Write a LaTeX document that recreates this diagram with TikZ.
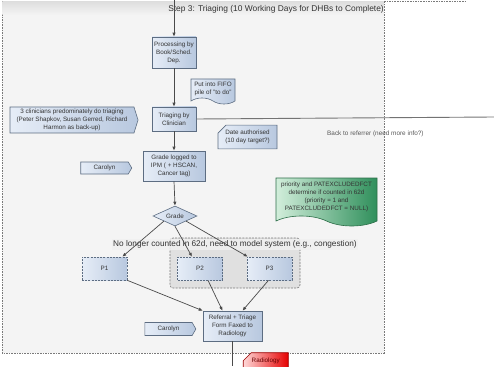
\documentclass[tikz,border=0pt]{standalone}
\usepackage{fontspec}
\setmainfont{Liberation Sans}
\usetikzlibrary{arrows.meta,shapes.misc,shapes.symbols,shapes.geometric,calc}

\definecolor{laneFill}{HTML}{F4F4F4}
\definecolor{laneLine}{HTML}{7A7A7A}
\definecolor{boxLine}{HTML}{5D6D82}
\definecolor{boxLight}{HTML}{E6EDF7}
\definecolor{boxDark}{HTML}{B8C8DF}
\definecolor{txt}{HTML}{333333}
\definecolor{wire}{HTML}{4A4A4A}
\definecolor{ruleLight}{HTML}{D2EEDB}
\definecolor{ruleDark}{HTML}{2F8F5B}
\definecolor{ruleLine}{HTML}{2C6E48}

\tikzset{
  small/.style={font=\fontsize{6.3}{7.9}\selectfont, text=txt, align=center, inner sep=1pt},
  procbox/.style={small, draw=boxLine, line width=0.6pt, left color=boxLight, right color=boxDark,
                  rectangle, minimum width=#1},
  procbox/.default=44pt,
  dashbox/.style={small, draw=boxLine, line width=0.6pt, dash pattern=on 2pt off 1.2pt,
                  left color=boxLight, right color=boxDark, minimum width=45pt, minimum height=23pt},
  flag/.style={small, signal, signal to=east, draw=boxLine, line width=0.6pt,
               left color=boxLight, right color=boxDark},
  cardnote/.style={small, chamfered rectangle, chamfered rectangle corners=north west,
                   chamfered rectangle xsep=4pt, chamfered rectangle ysep=4pt,
                   draw=boxLine, line width=0.6pt, left color=boxLight, right color=boxDark},
  docnote/.style={small, tape, tape bend top=none, tape bend bottom=out and in, tape bend height=6pt,
                  draw=boxLine, line width=0.6pt, left color=boxLight, right color=boxDark},
  flow/.style={draw=wire, line width=0.7pt, -{Latex[length=4pt,width=3.4pt]}},
  plain/.style={draw=wire, line width=0.7pt},
  lane/.style={draw=laneLine, line width=0.6pt, dash pattern=on 1.6pt off 1pt},
}

\begin{document}
\begin{tikzpicture}[x=1pt,y=-1pt]
\useasboundingbox (0,0) rectangle (494,366);

% swim lane for step 3
\draw[lane, fill=laneFill] (2,1) rectangle (384,353);
\shade[top color=black!13, bottom color=laneFill] (2.4,1.4) rectangle (383.6,15);
\draw[lane] (384,1) -- (467,1);
\node[anchor=east, font=\fontsize{8.4}{9}\selectfont, text=txt, inner sep=0pt] (title) at (384,9.5)
  {Step 3: Triaging (10 Working Days for DHBs to Complete)};

% group of counted priorities
\draw[draw=laneLine, line width=0.6pt, dash pattern=on 2pt off 1.2pt, fill=black!12, rounded corners=3pt]
  (170,238) rectangle (300,288);
\node[font=\fontsize{8.25}{9}\selectfont, text=txt, fill=black!6, fill opacity=0.85, text opacity=1,
      inner xsep=1pt, inner ysep=1.5pt] (nolonger) at (235,244.5)
  {No longer counted in 62d, need to model system (e.g., congestion)};

% main flow boxes
\node[procbox, minimum height=31pt] (proc) at (174,52.5) {Processing by\\Book/Sched.\\Dep.};
\node[docnote, minimum width=44pt, minimum height=25pt] (fifo) at (213,88.5) {Put into FIFO\\pile of "to do"};
\node[procbox, minimum height=24pt] (triage) at (174,119) {Triaging by\\Clinician};
\node[flag, signal pointer angle=145, minimum width=128pt, minimum height=26pt] (clin) at (72,120)
  {3 clinicians predominately do triaging\\(Peter Shapkov, Susan Gerred, Richard\\Harmon as back-up)};
\node[cardnote, minimum width=59pt, minimum height=22pt] (date) at (247.5,137) {Date authorised\\(10 day target?)};
\node[small, text=black!65, font=\fontsize{6.4}{7.5}\selectfont, anchor=west] (back) at (326,134)
  {Back to referrer (need more info?)};
\node[procbox=62pt, minimum height=30pt] (gradelog) at (174,166) {Grade logged to\\IPM ( + HSCAN,\\Cancer tag)};
\node[flag, signal pointer angle=120, minimum width=51pt, minimum height=12pt] (car1) at (104.5,168) {Carolyn};
\node[small, tape, tape bend top=none, tape bend bottom=out and in, tape bend height=10pt,
      draw=ruleLine, line width=0.6pt, left color=ruleLight, right color=ruleDark,
      minimum width=101pt, minimum height=48pt] (rule) at (326.5,197)
  {priority and PATEXCLUDEDFCT\\determine if counted in 62d\\(priority = 1 and\\PATEXCLUDEDFCT = NULL)};
\node[small, diamond, aspect=2.2, draw=boxLine, line width=0.6pt, left color=boxLight, right color=boxDark,
      minimum width=44pt, minimum height=20pt, inner sep=0pt] (grade) at (175,216) {Grade};

\node[dashbox] (p1) at (104.5,268.5) {P1};
\node[dashbox] (p2) at (200,268.5) {P2};
\node[dashbox] (p3) at (269.5,268.5) {P3};

\node[procbox=59pt, minimum height=30pt] (ref) at (232.5,326) {Referral + Triage\\Form Faxed to\\Radiology};
\node[flag, signal pointer angle=120, minimum width=51pt, minimum height=13pt] (car2) at (168.5,329) {Carolyn};
\node[small, chamfered rectangle, chamfered rectangle corners=north west,
      chamfered rectangle xsep=4pt, chamfered rectangle ysep=4pt,
      draw=red!60!black, line width=0.6pt, left color=red!15!white, right color=red!90!black,
      text=red!40!black, minimum width=45pt, minimum height=16pt, anchor=north west] (radio) at (247,356.5) {Radiology};

% free ends of connectors
\coordinate (fromtop) at (174,0);
\coordinate (toright) at (494,117);
\coordinate (tobottom) at (232.5,366);

% connectors
\draw[flow] (fromtop) -- (proc.north);
\draw[flow] (proc.south) -- (triage.north);
\draw[flow] (triage.south) -- (gradelog.north);
\draw[flow] (gradelog.south) -- (grade.north);
\draw[plain, line width=0.9pt, draw=black!55] (triage.east) -- (toright);

\draw[flow] (grade.south west) -- ($(p1.north east)+(-5,0)$);
\draw[flow] (grade.south) -- ($(p2.north)+(-8,0)$);
\draw[flow] (grade.south east) -- ($(p3.north west)+(1,0)$);

\draw[flow] (p1.south east) -- (ref.north west);
\draw[flow] ($(p2.south)+(8,0)$) -- ($(ref.north)+(-10,0)$);
\draw[flow] ($(p3.south)+(-1,0)$) -- ($(ref.north)+(10,0)$);
\draw[plain] (ref.south) -- (tobottom);
\end{tikzpicture}
\end{document}
